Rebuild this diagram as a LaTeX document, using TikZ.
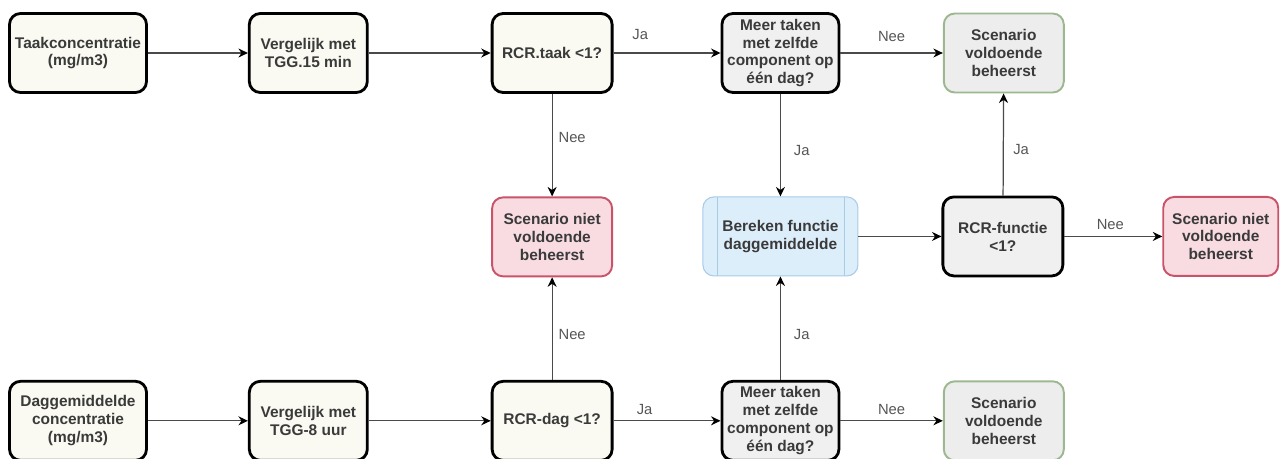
\documentclass[tikz,border=0pt]{standalone}
\usepackage{fontspec}
\setmainfont{Liberation Sans}
\usepackage{xcolor}
\usepackage{tikz}
\usetikzlibrary{arrows.meta, positioning}

\definecolor{boxtext}{HTML}{3A3A3A}
\definecolor{labelgray}{HTML}{555555}
\definecolor{linegray}{HTML}{4A4A4A}
\definecolor{creamfill}{HTML}{FAFAF2}
\definecolor{grayfill}{HTML}{F0F0F0}
\definecolor{okline}{HTML}{9DB890}
\definecolor{okfill}{HTML}{EDEDED}
\definecolor{failline}{HTML}{C9546A}
\definecolor{failfill}{HTML}{F8DCE2}
\definecolor{calcline}{HTML}{A8CBE8}
\definecolor{calcfill}{HTML}{DDEEFB}

\begin{document}
\begin{tikzpicture}[
  node distance=2.1cm and 2.1cm,
  base/.style={rectangle, rounded corners=0.22cm, align=center, text=boxtext, font=\fontsize{8.8}{10.2}\selectfont\bfseries, minimum height=1.58cm, inner sep=2pt},
  inbox/.style={base, draw=black, line width=1.6pt, fill=creamfill, minimum width=2.36cm},
  decision/.style={base, draw=black, line width=1.6pt, fill=grayfill, minimum width=2.34cm},
  okbox/.style={base, draw=okline, line width=1.1pt, fill=okfill, minimum width=2.4cm},
  failbox/.style={base, draw=failline, line width=1.1pt, fill=failfill, minimum width=2.4cm},
  calcbox/.style={base, draw=calcline, line width=0.6pt, fill=calcfill, minimum width=3.1cm,
    path picture={\draw[calcline, line width=0.6pt]
      ([xshift=0.3cm]path picture bounding box.north west) -- ([xshift=0.3cm]path picture bounding box.south west)
      ([xshift=-0.26cm]path picture bounding box.north east) -- ([xshift=-0.26cm]path picture bounding box.south east);}},
  arr/.style={-{Stealth[length=1.9mm, width=1.8mm, color=black]}, line width=0.7pt, draw=linegray},
  lbl/.style={font=\fontsize{8.4}{10}\selectfont, text=labelgray},
]
  \useasboundingbox (0,0) rectangle (25.62,-9.18);

  % Taak row
  \node[inbox, minimum width=2.74cm] (taakconc) at (1.56,-1.06) {Taakconcentratie\\(mg/m3)};
  \node[inbox, right=2.0cm of taakconc] (verg15) {Vergelijk met\\TGG.15 min};
  \node[inbox, minimum width=2.4cm, right=2.44cm of verg15] (rcrtaak) {RCR.taak <1?};
  \node[decision, right=2.14cm of rcrtaak] (meertaak) {Meer taken\\met zelfde\\component op\\één dag?};
  \node[okbox, right=2.05cm of meertaak] (oktaak) {Scenario\\voldoende\\beheerst};

  % Middle row
  \node[failbox, below=2.05cm of rcrtaak] (niettaak) {Scenario niet\\voldoende\\beheerst};
  \node[calcbox, below=2.05cm of meertaak] (bereken) {Bereken functie\\daggemiddelde};
  \node[decision, minimum width=2.4cm, right=1.66cm of bereken] (rcrfunc) {RCR-functie\\<1?};
  \node[failbox, minimum width=2.3cm, right=1.96cm of rcrfunc] (nietfunc) {Scenario niet\\voldoende\\beheerst};

  % Dag row
  \node[inbox, minimum width=2.74cm, below=5.72cm of taakconc] (dagconc) {Daggemiddelde\\concentratie\\(mg/m3)};
  \node[inbox, right=2.0cm of dagconc] (verg8) {Vergelijk met\\TGG-8 uur};
  \node[inbox, minimum width=2.4cm, right=2.44cm of verg8] (rcrdag) {RCR-dag <1?};
  \node[decision, right=2.14cm of rcrdag] (meerdag) {Meer taken\\met zelfde\\component op\\één dag?};
  \node[okbox, right=2.05cm of meerdag] (okdag) {Scenario\\voldoende\\beheerst};

  % Arrows
  \draw[arr] (taakconc) -- (verg15);
  \draw[arr] (verg15) -- (rcrtaak);
  \draw[arr] (rcrtaak) -- node[lbl, above=4pt, pos=0.25] {Ja} (meertaak);
  \draw[arr] (meertaak) -- node[lbl, above=3pt, pos=0.5] {Nee} (oktaak);
  \draw[arr] (rcrtaak) -- node[lbl, right, pos=0.43] {Nee} (niettaak);
  \draw[arr] (meertaak) -- node[lbl, right=4pt, pos=0.55] {Ja} (bereken);

  \draw[arr] (bereken) -- (rcrfunc);
  \draw[arr] (rcrfunc) -- node[lbl, right=2pt, pos=0.45] {Ja} (oktaak);
  \draw[arr] (rcrfunc) -- node[lbl, above, pos=0.47] {Nee} (nietfunc);

  \draw[arr] (dagconc) -- (verg8);
  \draw[arr] (verg8) -- (rcrdag);
  \draw[arr] (rcrdag) -- node[lbl, above, pos=0.29] {Ja} (meerdag);
  \draw[arr] (meerdag) -- node[lbl, above, pos=0.5] {Nee} (okdag);
  \draw[arr] (rcrdag) -- node[lbl, right, pos=0.44] {Nee} (niettaak);
  \draw[arr] (meerdag) -- node[lbl, right=4pt, pos=0.44] {Ja} (bereken);

\end{tikzpicture}
\end{document}
